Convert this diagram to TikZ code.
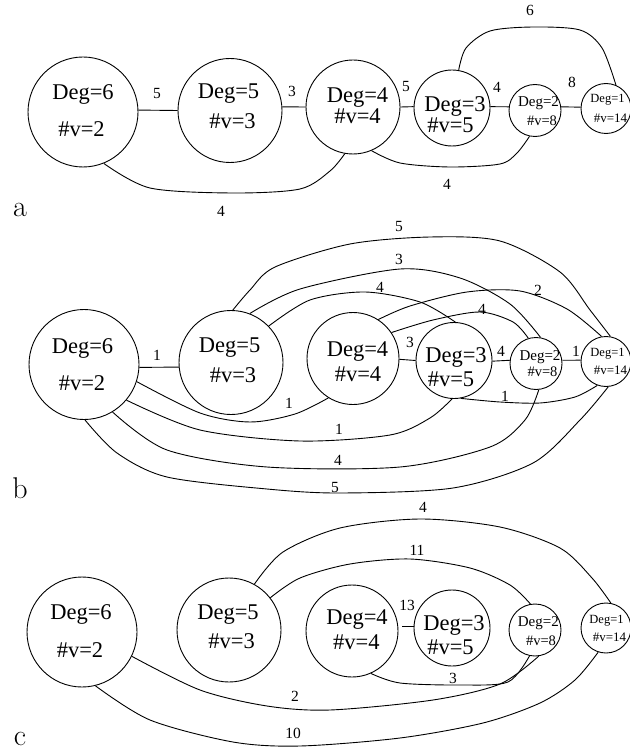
\documentclass[tikz,border=0pt]{standalone}
\usepackage{fontspec}
\newfontfamily\tms{Liberation Serif}
\begin{document}
\begin{tikzpicture}[x=1pt,y=-1pt,line width=0.9pt,
  vtx/.style={circle,draw,inner sep=0pt,minimum size=#1},
  dg/.style={font=\tms\fontsize{22.5}{24}\selectfont,inner sep=0pt,anchor=base},
  dgm/.style={font=\tms\fontsize{15}{16}\selectfont,inner sep=0pt,anchor=base},
  nvm/.style={font=\tms\fontsize{14.5}{16}\selectfont,inner sep=0pt,anchor=base},
  dgs/.style={font=\tms\fontsize{12.5}{14}\selectfont,inner sep=0pt,anchor=base},
  nvs/.style={font=\tms\fontsize{13}{14}\selectfont,inner sep=0pt,anchor=base},
  elab/.style={font=\tms\fontsize{15.5}{17}\selectfont,inner sep=0pt,anchor=base},
  plab/.style={font=\fontsize{30}{32}\selectfont,inner sep=0pt,anchor=base}]
\useasboundingbox (0,0) rectangle (629,751);

% ---------------- panel a ----------------
\node[vtx=110pt] (a6) at (83,112) {};
\node[vtx=104pt] (a5) at (230,110.5) {};
\node[vtx=94pt]  (a4) at (353,107) {};
\node[vtx=76pt]  (a3) at (452,108) {};
\node[vtx=52pt]  (a2) at (535,110.5) {};
\node[vtx=50pt]  (a1) at (606,108.5) {};

\node[dg] (a6d) at (83,99.3) {Deg=6};
\node[dg] (a6v) at (81.5,137) {\#v=2};
\node[dg] (a5d) at (228.5,99) {Deg=5};
\node[dg] (a5v) at (232.5,129) {\#v=3};
\node[dg] (a4d) at (357.5,103) {Deg=4};
\node[dg] (a4v) at (357.5,124) {\#v=4};
\node[dg] (a3d) at (455,112) {Deg=3};
\node[dg] (a3v) at (450.5,133) {\#v=5};
\node[dgm] (a2d) at (538.5,107) {Deg=2};
\node[nvm] (a2v) at (542,126) {\#v=8};
\node[dgs] (a1d) at (607.5,103) {Deg=1};
\node[nvs] (a1v) at (610.5,122.7) {\#v=14};

\draw (a6.2) -- (a5.180);
\draw (a5.4) -- (a4.180);
\draw (a4.0) -- (a3.178);
\draw (a3.2) -- (a2.172);
\draw (a2.8) -- (a1.177);
\draw plot[smooth] coordinates {(a3.80) (466,48) (490,31) (533,27) (580,30) (602,48) (a1.67)};
\draw plot[smooth] coordinates {(a6.-68) (150,188) (233,193) (300,189) (330,171) (a4.260)};
\draw plot[smooth] coordinates {(a4.-67) (400,163) (450,167) (500,164) (517,153) (a2.258)};

\node[elab] (la1) at (157,99) {5};
\node[elab] (la2) at (292,97) {3};
\node[elab] (la3) at (406,92) {5};
\node[elab] (la4) at (497,93) {4};
\node[elab] (la5) at (572,88) {8};
\node[elab] (la6) at (530,16) {6};
\node[elab] (la7) at (447,190) {4};
\node[elab] (la8) at (221,217) {4};
\node[plab] (pa) at (20,216) {a};

% ---------------- panel b ----------------
\node[vtx=110pt] (b6) at (84,364.5) {};
\node[vtx=104pt] (b5) at (231,362.5) {};
\node[vtx=92pt]  (b4) at (353,358.5) {};
\node[vtx=76pt]  (b3) at (454,360.5) {};
\node[vtx=52pt]  (b2) at (536,363.5) {};
\node[vtx=50pt]  (b1) at (606,361.5) {};

\node[dg] (b6d) at (82.5,353) {Deg=6};
\node[dg] (b6v) at (82,390) {\#v=2};
\node[dg] (b5d) at (229.7,352.7) {Deg=5};
\node[dg] (b5v) at (233,382.7) {\#v=3};
\node[dg] (b4d) at (357.5,356) {Deg=4};
\node[dg] (b4v) at (358,381.7) {\#v=4};
\node[dg] (b3d) at (456,362.7) {Deg=3};
\node[dg] (b3v) at (451,386.7) {\#v=5};
\node[dgm] (b2d) at (540,360) {Deg=2};
\node[nvm] (b2v) at (542.5,376.7) {\#v=8};
\node[dgs] (b1d) at (607.5,356) {Deg=1};
\node[nvs] (b1v) at (610.5,374) {\#v=14};

\draw (b6.-3) -- (b5.185);
\draw (b4.-1) -- (b3.180);
\draw (b3.-1) -- (b2.173);
\draw (b2.7) -- (b1.177);
\draw plot[smooth] coordinates {(b5.88) (250,290) (275,267) (350,244) (430,237) (500,241) (560,272) (590,310) (b1.80)};
\draw plot[smooth] coordinates {(b5.69) (300,289) (400,269) (460,278) (510,304) (b2.80)};
\draw plot[smooth] coordinates {(b5.44) (310,300) (365,292) (420,302) (b3.88)};
\draw plot[smooth] coordinates {(b4.57) (410,306) (467,292) (520,291) (567,309) (b1.100)};
\draw plot[smooth] coordinates {(b4.34) (433,320) (480,312) (513,322) (b2.107)};
\draw plot[smooth] coordinates {(b3.-80) (500,402) (540,403) (575,397) (b1.250)};
\draw plot[smooth] coordinates {(b6.-18) (200,413) (250,422) (295,414) (b4.238)};
\draw plot[smooth] coordinates {(b6.-40) (200,430) (300,441) (390,435) (430,418) (b3.267)};
\draw plot[smooth] coordinates {(b6.-59) (167,450) (267,467) (400,467) (490,447) (525,420) (b2.-84)};
\draw plot[smooth] coordinates {(b6.-89) (117,453) (167,477) (267,489) (340,493) (453,488) (533,463) (580,420) (b1.-85)};

\node[elab] (lb1) at (157,360) {1};
\node[elab] (lb2) at (410,347) {3};
\node[elab] (lb3) at (501,356) {4};
\node[elab] (lb4) at (576,356) {1};
\node[elab] (lb5) at (399,231) {5};
\node[elab] (lb6) at (399,264) {3};
\node[elab] (lb7) at (380,292) {4};
\node[elab] (lb8) at (538,295) {2};
\node[elab] (lb9) at (482,314) {4};
\node[elab] (lb10) at (505,401) {1};
\node[elab] (lb11) at (289,408) {1};
\node[elab] (lb12) at (339,434) {1};
\node[elab] (lb13) at (338,465) {4};
\node[elab] (lb14) at (335,492) {5};
\node[plab] (pb) at (20,498) {b};

% ---------------- panel c ----------------
\node[vtx=110pt] (c6) at (82,632) {};
\node[vtx=104pt] (c5) at (229,630) {};
\node[vtx=92pt]  (c4) at (352,631) {};
\node[vtx=76pt]  (c3) at (452,628) {};
\node[vtx=52pt]  (c2) at (535,630) {};
\node[vtx=50pt]  (c1) at (606,628) {};

\node[dg] (c6d) at (81,619.3) {Deg=6};
\node[dg] (c6v) at (80,657.3) {\#v=2};
\node[dg] (c5d) at (228,619.3) {Deg=5};
\node[dg] (c5v) at (231.7,648.3) {\#v=3};
\node[dg] (c4d) at (357,624) {Deg=4};
\node[dg] (c4v) at (356.3,649.3) {\#v=4};
\node[dg] (c3d) at (454,630.7) {Deg=3};
\node[dg] (c3v) at (450.5,654) {\#v=5};
\node[dgm] (c2d) at (538.3,626) {Deg=2};
\node[nvm] (c2v) at (541,645) {\#v=8};
\node[dgs] (c1d) at (606.5,623.3) {Deg=1};
\node[nvs] (c1v) at (609.5,641.7) {\#v=14};

\draw ([shift={(4,-5)}]c4.east) -- ([shift={(0,-2)}]c3.west);
\draw plot[smooth] coordinates {(c5.61) (283,552) (340,528) (420,519) (500,527) (560,548) (592,578) (c1.79)};
\draw plot[smooth] coordinates {(c5.38) (300,578) (350,564) (410,559) (470,568) (510,585) (c2.100)};
\draw plot[smooth] coordinates {(c4.-66) (400,683) (460,685) (508,682) (c2.258)};
\draw plot[smooth] coordinates {(c6.-26) (200,690) (267,706) (330,710) (433,700) (500,684) (c2.-82)};
\draw plot[smooth] coordinates {(c6.-76) (150,720) (233,742) (300,746) (400,738) (483,723) (540,703) (575,680) (c1.252)};

\node[elab] (lc1) at (407,610.7) {13};
\node[elab] (lc2) at (423,512.7) {4};
\node[elab] (lc3) at (417,555) {11};
\node[elab] (lc4) at (453,683.3) {3};
\node[elab] (lc5) at (295,701.7) {2};
\node[elab] (lc6) at (293,738) {10};
\node[plab] (pc) at (20,745) {c};
\end{tikzpicture}
\end{document}
